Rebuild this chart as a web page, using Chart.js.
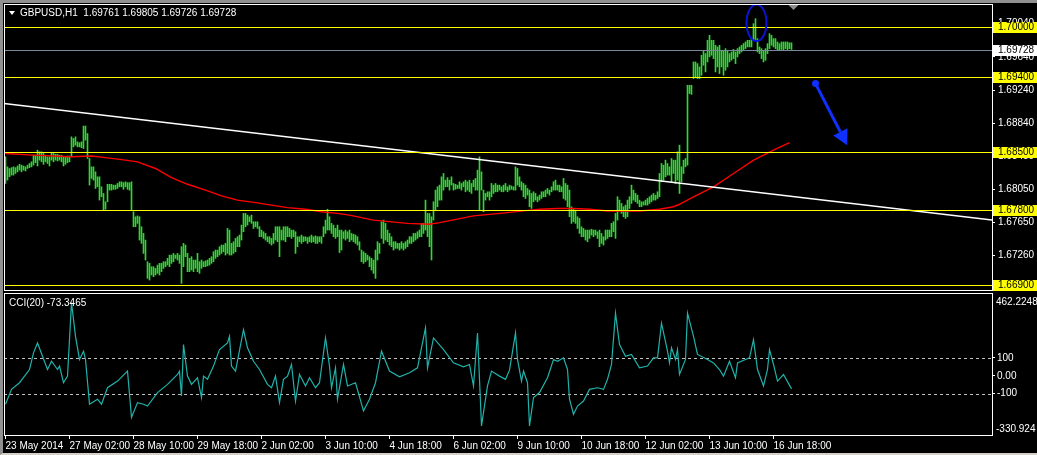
<!DOCTYPE html>
<html>
<head>
<meta charset="utf-8">
<script src="https://cdn.jsdelivr.net/npm/chart.js@4.4.1/dist/chart.umd.min.js"></script>
<style>
  html, body { margin: 0; padding: 0; background: #000; }
  body { width: 1037px; height: 455px; position: relative; overflow: hidden;
         font-family: "Liberation Sans", Arial, sans-serif; }
  #main { position: absolute; left: 0; top: 0; }
  #cci { position: absolute; left: 0; top: 291px; }
  .lbl { position: absolute; color: #fff; font-size: 10px; line-height: 12px; white-space: pre; }
  .tri { position: absolute; left: 9px; top: 11px; width: 0; height: 0;
         border-left: 3px solid transparent; border-right: 3px solid transparent; border-top: 4px solid #fff; }
  #frame { position: absolute; left: 0; top: 0; width: 1037px; height: 455px; box-sizing: border-box;
           border-top: 3px solid #909090; border-left: 3px solid #909090; border-bottom: 2px solid #d4d0c8;
           pointer-events: none; }
</style>
</head>
<body>
<canvas id="main" width="1037" height="291"></canvas>
<canvas id="cci" width="1037" height="164"></canvas>
<div class="tri"></div>
<div class="lbl" style="left:20px; top:7px;">GBPUSD,H1  1.69761 1.69805 1.69726 1.69728</div>
<div class="lbl" style="left:9px; top:297px;">CCI(20) -73.3465</div>
<div id="frame"></div>
<script>
// GBPUSD H1 bars, one per hour (high / low)
const highs = [
  1.6844,1.6832,1.6830,1.6831,1.6832,1.6831,1.6833,1.6835,1.6834,1.6833,
  1.6832,1.6834,1.6836,1.6838,1.6846,1.6846,1.6852,1.6850,1.6850,1.6848,
  1.6846,1.6844,1.6844,1.6849,1.6848,1.6847,1.6847,1.6846,1.6846,1.6844,
  1.6844,1.6845,1.6845,1.6868,1.6866,1.6868,1.6862,1.6861,1.6862,1.6881,
  1.6881,1.6872,1.6842,1.6832,1.6832,1.6826,1.6820,1.6820,1.6808,1.6800,
  1.6790,1.6811,1.6811,1.6811,1.6810,1.6810,1.6812,1.6814,1.6814,1.6813,
  1.6814,1.6813,1.6813,1.6814,1.6778,1.6772,1.6773,1.6772,1.6760,1.6752,
  1.6744,1.6718,1.6716,1.6712,1.6712,1.6710,1.6714,1.6716,1.6716,1.6718,
  1.6718,1.6722,1.6726,1.6726,1.6728,1.6726,1.6728,1.6726,1.6736,1.6740,
  1.6738,1.6728,1.6722,1.6724,1.6720,1.6720,1.6728,1.6718,1.6720,1.6718,
  1.6719,1.6720,1.6722,1.6724,1.6730,1.6732,1.6732,1.6736,1.6738,1.6738,
  1.6740,1.6758,1.6756,1.6740,1.6742,1.6746,1.6748,1.6750,1.6762,1.6776,
  1.6776,1.6774,1.6772,1.6774,1.6766,1.6766,1.6766,1.6760,1.6756,1.6754,
  1.6752,1.6748,1.6748,1.6746,1.6752,1.6760,1.6760,1.6760,1.6756,1.6760,
  1.6760,1.6760,1.6758,1.6756,1.6756,1.6754,1.6748,1.6748,1.6750,1.6748,
  1.6748,1.6747,1.6748,1.6750,1.6748,1.6749,1.6748,1.6748,1.6748,1.6760,
  1.6768,1.6781,1.6772,1.6764,1.6762,1.6758,1.6762,1.6756,1.6756,1.6754,
  1.6756,1.6754,1.6756,1.6752,1.6751,1.6750,1.6748,1.6742,1.6732,1.6730,
  1.6728,1.6726,1.6724,1.6722,1.6720,1.6732,1.6742,1.6740,1.6766,1.6768,
  1.6764,1.6756,1.6752,1.6748,1.6742,1.6742,1.6740,1.6740,1.6742,1.6740,
  1.6742,1.6744,1.6748,1.6748,1.6752,1.6752,1.6754,1.6756,1.6764,1.6764,
  1.6792,1.6776,1.6776,1.6772,1.6790,1.6804,1.6808,1.6810,1.6820,1.6824,
  1.6816,1.6819,1.6816,1.6820,1.6812,1.6811,1.6810,1.6814,1.6812,1.6814,
  1.6816,1.6814,1.6816,1.6812,1.6816,1.6818,1.6828,1.6844,1.6826,1.6804,
  1.6800,1.6802,1.6802,1.6812,1.6810,1.6812,1.6810,1.6810,1.6808,1.6810,
  1.6812,1.6808,1.6810,1.6809,1.6808,1.6832,1.6830,1.6820,1.6814,1.6812,
  1.6810,1.6806,1.6804,1.6800,1.6802,1.6800,1.6796,1.6798,1.6802,1.6802,
  1.6804,1.6806,1.6804,1.6808,1.6814,1.6816,1.6810,1.6810,1.6808,1.6818,
  1.6812,1.6810,1.6804,1.6784,1.6782,1.6780,1.6772,1.6770,1.6760,1.6758,
  1.6756,1.6756,1.6756,1.6757,1.6756,1.6756,1.6754,1.6756,1.6752,1.6748,
  1.6756,1.6756,1.6756,1.6764,1.6766,1.6776,1.6796,1.6792,1.6788,1.6784,
  1.6786,1.6792,1.6796,1.6810,1.6804,1.6800,1.6798,1.6792,1.6790,1.6790,
  1.6792,1.6794,1.6796,1.6798,1.6800,1.6798,1.6802,1.6824,1.6836,1.6834,
  1.6840,1.6836,1.6832,1.6842,1.6840,1.6840,1.6850,1.6858,1.6832,1.6840,
  1.6842,1.6930,1.6930,1.6930,1.6958,1.6958,1.6956,1.6952,1.6966,1.6972,
  1.6968,1.6984,1.6990,1.6984,1.6984,1.6978,1.6976,1.6978,1.6972,1.6972,
  1.6974,1.6972,1.6968,1.6970,1.6973,1.6970,1.6974,1.6976,1.6978,1.6980,
  1.6982,1.6984,1.6984,1.6985,1.7004,1.7010,1.6986,1.6976,1.6974,1.6972,
  1.6974,1.6980,1.6992,1.6990,1.6986,1.6986,1.6982,1.6980,1.6982,1.6982,
  1.6982,1.6982,1.6981,1.6981
];
const lows = [
  1.6812,1.6816,1.6820,1.6822,1.6822,1.6824,1.6826,1.6828,1.6826,1.6828,
  1.6827,1.6830,1.6831,1.6832,1.6834,1.6837,1.6833,1.6840,1.6838,1.6835,
  1.6838,1.6836,1.6833,1.6840,1.6838,1.6840,1.6839,1.6840,1.6838,1.6833,
  1.6835,1.6837,1.6838,1.6844,1.6856,1.6858,1.6856,1.6856,1.6855,1.6854,
  1.6864,1.6842,1.6810,1.6818,1.6816,1.6806,1.6808,1.6792,1.6796,1.6780,
  1.6781,1.6790,1.6804,1.6804,1.6805,1.6805,1.6806,1.6808,1.6808,1.6805,
  1.6808,1.6805,1.6804,1.6780,1.6760,1.6760,1.6764,1.6744,1.6740,1.6728,
  1.6720,1.6698,1.6696,1.6702,1.6700,1.6702,1.6704,1.6702,1.6706,1.6710,
  1.6712,1.6714,1.6712,1.6716,1.6718,1.6722,1.6720,1.6716,1.6692,1.6712,
  1.6724,1.6706,1.6706,1.6708,1.6706,1.6710,1.6706,1.6704,1.6710,1.6712,
  1.6712,1.6713,1.6714,1.6716,1.6718,1.6722,1.6724,1.6726,1.6728,1.6730,
  1.6726,1.6728,1.6726,1.6726,1.6728,1.6730,1.6736,1.6736,1.6744,1.6754,
  1.6760,1.6762,1.6766,1.6764,1.6758,1.6760,1.6758,1.6748,1.6748,1.6746,
  1.6744,1.6742,1.6740,1.6738,1.6740,1.6744,1.6742,1.6724,1.6744,1.6744,
  1.6742,1.6748,1.6748,1.6746,1.6748,1.6728,1.6736,1.6742,1.6740,1.6742,
  1.6743,1.6740,1.6742,1.6741,1.6742,1.6740,1.6740,1.6742,1.6740,1.6748,
  1.6752,1.6756,1.6756,1.6752,1.6748,1.6746,1.6748,1.6729,1.6732,1.6746,
  1.6744,1.6746,1.6742,1.6744,1.6742,1.6740,1.6738,1.6732,1.6718,1.6716,
  1.6718,1.6720,1.6712,1.6708,1.6704,1.6698,1.6720,1.6728,1.6746,1.6740,
  1.6744,1.6742,1.6738,1.6736,1.6732,1.6734,1.6734,1.6732,1.6734,1.6732,
  1.6734,1.6736,1.6740,1.6740,1.6742,1.6744,1.6746,1.6748,1.6748,1.6752,
  1.6756,1.6748,1.6736,1.6720,1.6768,1.6780,1.6784,1.6792,1.6792,1.6804,
  1.6808,1.6808,1.6804,1.6810,1.6804,1.6805,1.6806,1.6806,1.6804,1.6808,
  1.6802,1.6804,1.6802,1.6800,1.6808,1.6804,1.6804,1.6780,1.6804,1.6778,
  1.6792,1.6796,1.6792,1.6796,1.6800,1.6802,1.6802,1.6804,1.6802,1.6802,
  1.6804,1.6802,1.6804,1.6805,1.6804,1.6804,1.6810,1.6808,1.6804,1.6796,
  1.6794,1.6798,1.6784,1.6782,1.6790,1.6792,1.6790,1.6792,1.6794,1.6796,
  1.6796,1.6800,1.6798,1.6802,1.6804,1.6804,1.6804,1.6802,1.6802,1.6794,
  1.6792,1.6784,1.6772,1.6764,1.6766,1.6764,1.6758,1.6752,1.6748,1.6748,
  1.6744,1.6742,1.6746,1.6750,1.6748,1.6750,1.6746,1.6736,1.6740,1.6738,
  1.6744,1.6746,1.6748,1.6748,1.6754,1.6746,1.6768,1.6780,1.6776,1.6772,
  1.6770,1.6772,1.6782,1.6788,1.6792,1.6790,1.6788,1.6784,1.6784,1.6786,
  1.6786,1.6786,1.6788,1.6790,1.6792,1.6792,1.6794,1.6796,1.6814,1.6816,
  1.6820,1.6822,1.6822,1.6814,1.6824,1.6812,1.6816,1.6800,1.6814,1.6824,
  1.6832,1.6834,1.6920,1.6919,1.6938,1.6940,1.6938,1.6938,1.6942,1.6954,
  1.6946,1.6958,1.6964,1.6966,1.6962,1.6946,1.6952,1.6944,1.6952,1.6942,
  1.6948,1.6952,1.6958,1.6960,1.6962,1.6956,1.6964,1.6968,1.6970,1.6972,
  1.6974,1.6976,1.6976,1.6976,1.6984,1.6984,1.6970,1.6968,1.6962,1.6958,
  1.6960,1.6968,1.6974,1.6978,1.6976,1.6974,1.6972,1.6972,1.6973,1.6972,
  1.6974,1.6972,1.6974,1.6973
];

// red moving average (bar index, price)
const maBars = [0,14,33,43,50,60,66,75,83,91,100,108,116,125,133,141,150,158,166,172,
  184,201,212,217,234,251,259,267,276,284,292,301,309,317,327,334,337,344,354,364,374,384,392];
const maVals = [1.6848,1.6846,1.6844,1.6845,1.6843,1.6840,1.6838,1.6830,1.6819,1.6811,
  1.6804,1.6797,1.6792,1.6789,1.6786,1.6783,1.6781,1.6778,1.6776,1.6774,
  1.6768,1.6764,1.6763,1.6765,1.6773,1.6777,1.6779,1.6781,1.6782,1.6782,
  1.6781,1.6779,1.6779,1.6779,1.6781,1.6784,1.6787,1.6796,1.6808,1.6824,1.6840,1.6852,1.6861];

// white trend line, two anchor points
const trendBars = [-0.75, 493.25];
const trendVals = [1.6908, 1.6768];

// horizontal levels and the last bid
const levels = [1.70000, 1.69400, 1.68500, 1.67800, 1.66900];
const bid = 1.69728;

// price axis ticks
const priceTicks = [1.7004, 1.6964, 1.6924, 1.6884, 1.6845, 1.6805, 1.6765, 1.6726];

// CCI(20) sampled at bar index
const cciBars = [0,3,7,12,14,16,21,23,26,27,29,31,33,35,37,39,40,42,46,48,
  51,56,61,63,66,69,71,76,81,86,87,88,89,91,93,96,98,99,101,104,
  107,111,112,113,115,119,121,124,127,131,133,135,137,139,141,143,145,147,150,152,
  155,157,160,162,163,165,166,169,171,175,179,182,185,188,192,197,202,206,210,211,
  214,219,224,229,232,234,236,238,241,243,247,250,252,255,256,258,259,261,262,264,
  267,271,274,276,279,281,282,284,286,289,292,296,299,301,303,305,307,310,313,317,
  321,324,326,328,331,332,333,335,336,337,340,341,344,346,351,354,357,359,362,365,
  366,370,372,374,376,379,381,382,384,386,389,393];
const cciVals = [-159,-76,-39,35,128,183,35,81,35,54,-39,-2,410,220,91,137,91,-159,-131,-159,
  -67,-30,26,-233,-150,-159,-169,-94,-48,7,26,-113,174,-2,-48,-11,-122,-2,-20,54,
  146,183,220,54,26,257,156,81,35,-48,-67,-2,-150,-20,-2,63,-141,7,-57,-11,
  -67,-39,211,54,-67,44,-131,63,-57,-39,-196,-131,-39,137,26,-6,17,44,267,44,
  211,146,72,50,63,-57,239,-280,-57,26,-2,-20,31,239,91,-30,26,-39,-280,-122,
  -94,-11,91,81,100,35,-131,-215,-169,-141,-76,-67,-76,-20,63,350,174,109,119,44,
  54,100,100,294,137,72,156,91,146,7,91,350,220,119,91,72,35,-2,81,-11,
  72,91,100,202,35,-57,35,146,63,-30,7,-73.3465];
const cciLevels = [100, -100];
const cciMax = 462.2248, cciMin = -330.924;

// time axis
const xLabels = ['23 May 2014','27 May 02:00','28 May 10:00','29 May 18:00','2 Jun 02:00','3 Jun 10:00',
  '4 Jun 18:00','6 Jun 02:00','9 Jun 10:00','10 Jun 18:00','12 Jun 02:00','13 Jun 10:00','16 Jun 18:00'];
const xLabelBars = [0,32,64,96,128,160,192,224,256,288,320,352,384];

const FONT = '"Liberation Sans", Arial, sans-serif';
Chart.defaults.font.family = FONT;
Chart.defaults.font.size = 10;
Chart.defaults.color = '#fff';

const xRange = { min: -0.75, max: 493.25 };

function fixWidth(s) { s.width = 45; s.paddingTop = 0; s.paddingBottom = 0; }

// drawing objects on the price chart
const mainDecor = {
  id: 'mainDecor',
  afterDatasetsDraw(chart) {
    const ctx = chart.ctx, a = chart.chartArea, xs = chart.scales.x, ys = chart.scales.y;
    ctx.save();
    ctx.beginPath();
    ctx.rect(a.left, a.top, a.right - a.left, a.bottom - a.top);
    ctx.clip();
    ctx.lineWidth = 1;
    ctx.strokeStyle = '#778899';
    let y = Math.round(ys.getPixelForValue(bid)) + 0.5;
    ctx.beginPath(); ctx.moveTo(a.left, y); ctx.lineTo(a.right, y); ctx.stroke();
    ctx.strokeStyle = '#ffff00';
    levels.forEach(v => {
      y = Math.round(ys.getPixelForValue(v)) + 0.5;
      ctx.beginPath(); ctx.moveTo(a.left, y); ctx.lineTo(a.right, y); ctx.stroke();
    });

    // ellipse round the top
    const cx = xs.getPixelForValue(375.5), cy = ys.getPixelForValue(1.7005);
    const rx = xs.getPixelForValue(380.5) - cx, ry = ys.getPixelForValue(1.7005 - 0.0022) - cy;
    ctx.strokeStyle = '#0a14d8';
    ctx.lineWidth = 2;
    ctx.beginPath(); ctx.ellipse(cx, cy, rx, ry, 0, 0, Math.PI * 2); ctx.stroke();

    // arrow down
    const x0 = xs.getPixelForValue(405), y0 = ys.getPixelForValue(1.6932);
    const x1 = xs.getPixelForValue(420.85), y1 = ys.getPixelForValue(1.6858);
    const ang = Math.atan2(y1 - y0, x1 - x0);
    const head = 15, half = 8;
    const bx = x1 - head * Math.cos(ang), by = y1 - head * Math.sin(ang);
    ctx.strokeStyle = ctx.fillStyle = '#1030ff';
    ctx.lineWidth = 3;
    ctx.beginPath(); ctx.moveTo(x0, y0); ctx.lineTo(bx, by); ctx.stroke();
    ctx.beginPath(); ctx.arc(x0, y0, 3.5, 0, Math.PI * 2); ctx.fill();
    ctx.beginPath();
    ctx.moveTo(x1, y1);
    ctx.lineTo(bx + half * Math.sin(ang), by - half * Math.cos(ang));
    ctx.lineTo(bx - half * Math.sin(ang), by + half * Math.cos(ang));
    ctx.closePath(); ctx.fill();
    ctx.restore();
  },
  afterDraw(chart) {
    const ctx = chart.ctx, a = chart.chartArea, xs = chart.scales.x, ys = chart.scales.y;
    ctx.save();
    ctx.strokeStyle = '#fff';
    ctx.lineWidth = 1;
    ctx.strokeRect(a.left + 0.5, a.top + 0.5, a.right - a.left, a.bottom - a.top);
    // chart shift marker
    const sx = xs.getPixelForValue(394);
    ctx.fillStyle = '#8c8c8c';
    ctx.beginPath(); ctx.moveTo(sx - 5, a.top + 1); ctx.lineTo(sx + 5, a.top + 1); ctx.lineTo(sx, a.top + 6); ctx.closePath(); ctx.fill();
    // price boxes on the axis
    ctx.font = '10px ' + FONT;
    ctx.textBaseline = 'middle';
    const box = (v, bg) => {
      const y = Math.round(ys.getPixelForValue(v));
      ctx.fillStyle = bg;
      ctx.fillRect(a.right + 1, y - 5, 44, 11);
      ctx.fillStyle = '#000';
      ctx.fillText(v.toFixed(5), a.right + 6, y + 0.5);
    };
    levels.forEach(v => box(v, '#ffff00'));
    box(bid, '#ffffff');
    ctx.restore();
  }
};

new Chart(document.getElementById('main'), {
  type: 'bar',
  data: {
    datasets: [
      {
        type: 'bar',
        data: highs.map((h, i) => ({ x: i, y: [lows[i], h] })),
        backgroundColor: '#33d633',
        borderWidth: 0,
        barThickness: 1,
        order: 3
      },
      {
        type: 'line',
        data: maBars.map((b, k) => ({ x: b, y: maVals[k] })),
        borderColor: '#ff0000',
        borderWidth: 1.4,
        pointRadius: 0,
        order: 2
      },
      {
        type: 'line',
        data: trendBars.map((b, k) => ({ x: b, y: trendVals[k] })),
        borderColor: '#ffffff',
        borderWidth: 1.5,
        pointRadius: 0,
        order: 1
      }
    ]
  },
  options: {
    responsive: false,
    animation: false,
    events: [],
    layout: { padding: { left: 4, top: 4, right: 0, bottom: 1 } },
    plugins: { legend: { display: false }, tooltip: { enabled: false } },
    scales: {
      x: { type: 'linear', min: xRange.min, max: xRange.max, offset: false, display: false },
      y: {
        position: 'right',
        min: 1.6684, max: 1.70276,
        afterBuildTicks: s => { s.ticks = priceTicks.map(v => ({ value: v })); },
        afterFit: fixWidth,
        border: { display: false },
        grid: { drawOnChartArea: false, drawTicks: true, tickLength: 3, color: '#fff' },
        ticks: { color: '#fff', padding: 3, callback: v => v.toFixed(5) }
      }
    }
  },
  plugins: [mainDecor]
});

// CCI window
const cciDecor = {
  id: 'cciDecor',
  beforeDatasetsDraw(chart) {
    const ctx = chart.ctx, a = chart.chartArea, ys = chart.scales.y;
    ctx.save();
    ctx.strokeStyle = '#c0c0c0';
    ctx.lineWidth = 1;
    ctx.setLineDash([3, 3]);
    cciLevels.forEach(v => {
      const y = Math.round(ys.getPixelForValue(v)) + 0.5;
      ctx.beginPath(); ctx.moveTo(a.left, y); ctx.lineTo(a.right, y); ctx.stroke();
    });
    ctx.restore();
  },
  afterDraw(chart) {
    const ctx = chart.ctx, a = chart.chartArea;
    ctx.save();
    ctx.strokeStyle = '#fff';
    ctx.lineWidth = 1;
    ctx.strokeRect(a.left + 0.5, a.top + 0.5, a.right - a.left, a.bottom - a.top);
    ctx.font = '10px ' + FONT;
    ctx.fillStyle = '#fff';
    ctx.textBaseline = 'middle';
    ctx.fillText(String(cciMax), a.right + 4, a.top + 9);
    ctx.fillText(String(cciMin), a.right + 4, a.bottom - 6);
    ctx.restore();
  }
};

new Chart(document.getElementById('cci'), {
  type: 'line',
  data: {
    datasets: [{
      data: cciBars.map((b, k) => ({ x: b, y: cciVals[k] })),
      borderColor: '#20b2aa',
      borderWidth: 1.2,
      pointRadius: 0
    }]
  },
  options: {
    responsive: false,
    animation: false,
    events: [],
    layout: { padding: { left: 4, top: 2, right: 0, bottom: 0 } },
    plugins: { legend: { display: false }, tooltip: { enabled: false } },
    scales: {
      x: {
        type: 'linear', min: xRange.min, max: xRange.max, offset: false,
        afterBuildTicks: s => { s.ticks = xLabelBars.map(v => ({ value: v })); },
        afterFit: s => { s.height = 20; s.paddingLeft = 0; s.paddingRight = 0; },
        border: { display: false },
        grid: { drawOnChartArea: false, drawTicks: true, tickLength: 4, color: '#fff' },
        ticks: { color: '#fff', align: 'start', padding: 1, maxRotation: 0, autoSkip: false,
                 callback: (v, i) => xLabels[i] }
      },
      y: {
        position: 'right',
        min: cciMin, max: cciMax,
        afterBuildTicks: s => { s.ticks = [100, 0, -100].map(v => ({ value: v })); },
        afterFit: fixWidth,
        border: { display: false },
        grid: { drawOnChartArea: false, drawTicks: true, tickLength: 3, color: '#fff' },
        ticks: { color: '#fff', padding: 2, callback: v => v === 0 ? '0.00' : String(v) }
      }
    }
  },
  plugins: [cciDecor]
});
</script>
</body>
</html>
